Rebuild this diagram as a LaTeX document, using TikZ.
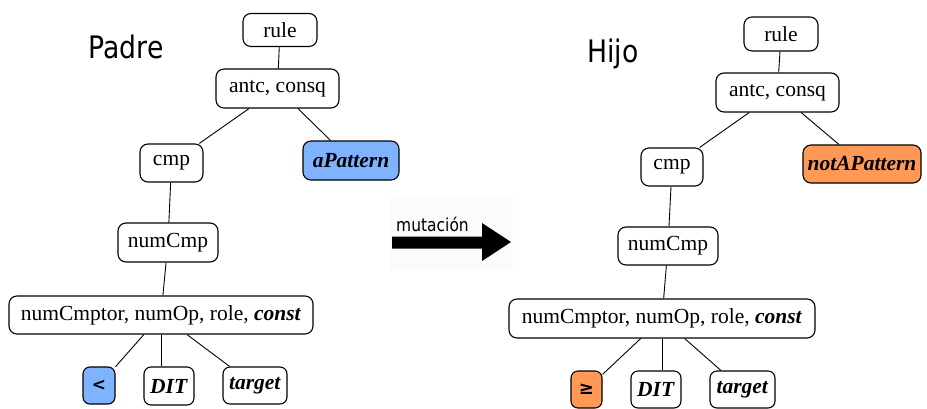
\documentclass[tikz,border=0pt]{standalone}
\usepackage{fontspec}
\usepackage{graphicx}
\setmainfont{Liberation Serif}
\newfontfamily\labelfont{DejaVu Sans}
\newfontfamily\symfont{DejaVu Sans Bold}

\definecolor{genblue}{RGB}{128,179,255}
\definecolor{genorange}{RGB}{255,153,85}

\tikzset{
  gene/.style={draw=black, line width=1.1pt, rounded corners=8pt, inner sep=0pt,
    fill=white, font=\fontsize{21.5}{24}\selectfont, align=center},
  link/.style={draw=black, line width=0.9pt},
  changedblue/.style={gene, fill=genblue},
  changedorange/.style={gene, fill=genorange},
  treetitle/.style={anchor=base, inner sep=0pt, font=\labelfont\fontsize{31}{34}\selectfont},
}

\begin{document}
\begin{tikzpicture}[x=1pt, y=-1pt]
\useasboundingbox (0,0) rectangle (927,408);

% ---- parent tree ----
\node[treetitle] (padre) at (126,58) {\scalebox{0.86}[1]{Padre}};

\node[gene, minimum width=74pt, minimum height=33pt] (lrule) at (280,30) {rule};
\node[gene, minimum width=123pt, minimum height=39pt] (lantc) at (277.5,88.5) {antc, consq};
\node[gene, minimum width=63pt, minimum height=38pt] (lcmp) at (171.5,163) {cmp};
\node[changedblue, minimum width=96pt, minimum height=39pt] (lpat) at (351,160.5) {\textbf{\textit{aPattern}}};
\node[gene, minimum width=100pt, minimum height=39pt] (lnum) at (168,242.5) {numCmp};
\node[gene, minimum width=304pt, minimum height=38pt] (lctor) at (161,315) {numCmptor, numOp, role, \textbf{\textit{const}}};
\node[changedblue, rounded corners=7pt, minimum width=32pt, minimum height=37pt] (lop) at (99,385.5) {\symfont\fontsize{17}{19}\selectfont <};
\node[gene, rounded corners=7pt, minimum width=50pt, minimum height=38pt] (ldit) at (169,386) {\textbf{\textit{DIT}}};
\node[gene, rounded corners=7pt, minimum width=64pt, minimum height=37pt] (ltgt) at (255,385.5) {\textbf{\textit{target}}};

\draw[link] (lrule) -- (lantc);
\draw[link] (lantc) -- (lcmp);
\draw[link] (lantc) -- (lpat);
\draw[link] (lcmp) -- (lnum);
\draw[link] (lnum) -- (lctor);
\draw[link] (lctor) -- (lop);
\draw[link] (lctor) -- (lctor |- ldit.north);
\draw[link] (lctor) -- (ltgt);

% ---- mutation arrow ----
\fill[gray!3] (390,198) rectangle (513,270);
\node[anchor=base, inner sep=0pt, font=\labelfont\fontsize{18}{20}\selectfont] (mut) at (432.5,231) {\scalebox{0.86}[1]{mutación}};
\fill[black] (392,236.5) -- (482,236.5) -- (482,223) -- (511,242) -- (482,261) -- (482,248.5) -- (392,248.5) -- cycle;

% ---- child tree ----
\node[treetitle] (hijo) at (613,62) {\scalebox{0.86}[1]{Hijo}};

\node[gene, minimum width=74pt, minimum height=34pt] (rrule) at (781,34) {rule};
\node[gene, minimum width=123pt, minimum height=39pt] (rantc) at (777.5,92.5) {antc, consq};
\node[gene, minimum width=62pt, minimum height=38pt] (rcmp) at (672,167) {cmp};
\node[changedorange, minimum width=118pt, minimum height=38pt] (rpat) at (862,164) {\textbf{\textit{notAPattern}}};
\node[gene, minimum width=100pt, minimum height=38pt] (rnum) at (668,246) {numCmp};
\node[gene, minimum width=306pt, minimum height=39pt] (rctor) at (662,318.5) {numCmptor, numOp, role, \textbf{\textit{const}}};
\node[changedorange, rounded corners=7pt, minimum width=31pt, minimum height=37pt] (rop) at (586.5,389.5) {\symfont\fontsize{18}{20}\selectfont ≥};
\node[gene, rounded corners=7pt, minimum width=50pt, minimum height=37pt] (rdit) at (656,389.5) {\textbf{\textit{DIT}}};
\node[gene, rounded corners=7pt, minimum width=65pt, minimum height=37pt] (rtgt) at (742.5,389.5) {\textbf{\textit{target}}};

\draw[link] (rrule) -- (rantc);
\draw[link] (rantc) -- (rcmp);
\draw[link] (rantc) -- (rpat);
\draw[link] (rcmp) -- (rnum);
\draw[link] (rnum) -- (rctor);
\draw[link] (rctor) -- (rop);
\draw[link] (rctor) -- (rctor |- rdit.north);
\draw[link] (rctor) -- (rtgt);
\end{tikzpicture}
\end{document}
